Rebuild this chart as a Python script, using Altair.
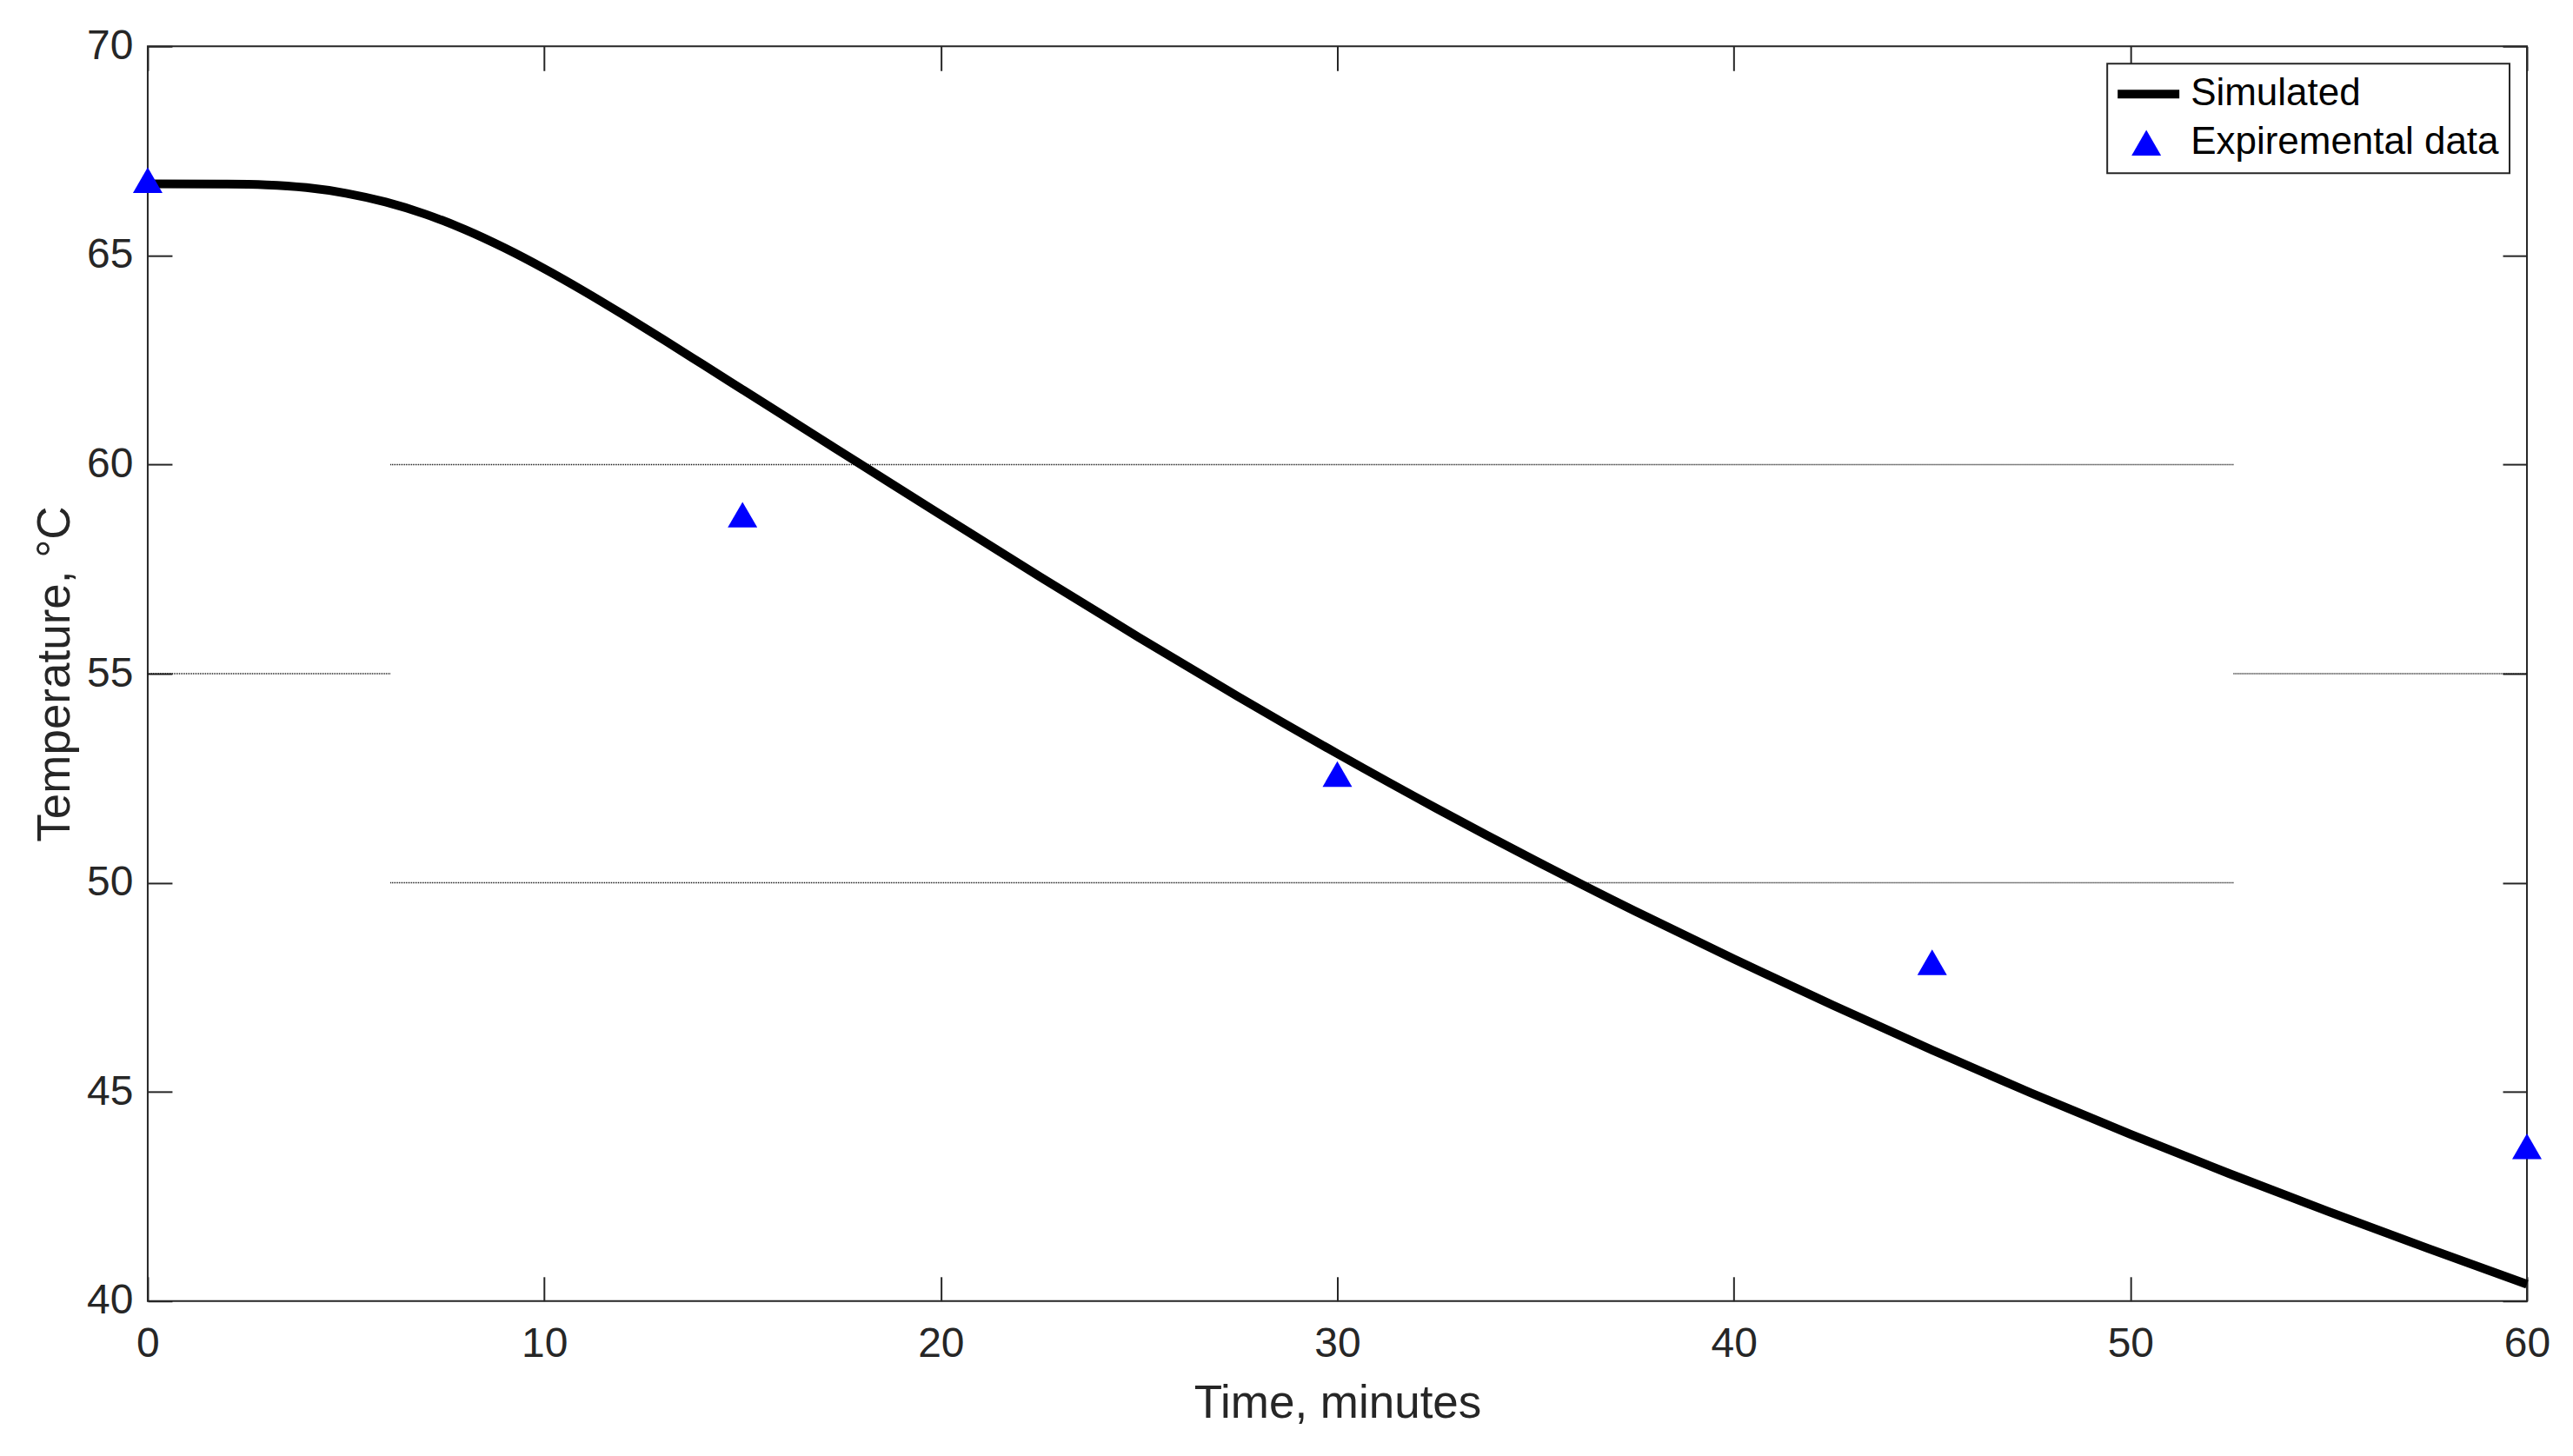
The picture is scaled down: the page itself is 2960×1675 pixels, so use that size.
import altair as alt
import pandas as pd

# ---- data ----
sim_time = [0, 2, 3, 4, 5, 6, 7, 8, 9, 10, 11, 12, 13, 14, 15, 16, 17, 18, 20,
            22.5, 25, 27.5, 30, 32.5, 35, 37.5, 40, 42.5, 45, 47.5, 50, 52.5, 55,
            57.5, 60]
sim_temp = [66.71, 66.705, 66.687, 66.622, 66.487, 66.277, 65.987, 65.617, 65.177,
            64.682, 64.145, 63.577, 62.99, 62.392, 61.792, 61.192, 60.592, 59.992,
            58.80, 57.316, 55.863, 54.45, 53.088, 51.779, 50.526, 49.326, 48.176,
            47.07, 46.001, 44.973, 43.989, 43.045, 42.139, 41.261, 40.402]
exp_time = [0, 15, 30, 45, 60]
exp_temp = [66.8, 58.8, 52.6, 48.1, 43.7]

grid_temp = [60, 55, 55, 50]
grid_from = [6.12, 0, 52.6, 6.12]
grid_to = [52.6, 6.12, 60, 52.6]

x_ticks = [0, 10, 20, 30, 40, 50, 60]
y_ticks = [40, 45, 50, 55, 60, 65, 70]
series_names = ["Simulated", "Expiremental data"]
series_colors = ["black", "blue"]

# ---- styles ----
W, H = 2738, 1444
FONT = "Liberation Sans"
INK = "#262626"
LINE_PATH = "M-1,-0.1316L1,-0.1316L1,0.1316L-1,0.1316Z"
TRI_PATH = "M0,-0.3868L-0.4474,0.3868L0.4474,0.3868Z"

sim_df = pd.DataFrame({"t": sim_time, "T": sim_temp})
exp_df = pd.DataFrame({"t": exp_time, "T": exp_temp,
                       "series": [series_names[1]] * len(exp_time)})
grid_df = pd.DataFrame({"x1": grid_from, "x2": grid_to, "y": grid_temp})

xs = alt.Scale(domain=[0, 60], nice=False, zero=False)
ys = alt.Scale(domain=[40, 70], nice=False, zero=False)


def tick_axis(values, orient, offset):
    return alt.Axis(values=values, orient=orient, offset=offset, labels=False,
                    domain=False, grid=False, ticks=True, tickSize=28, tickWidth=2,
                    tickColor=INK, title=None)


x_main = alt.Axis(values=x_ticks, orient="bottom", title="Time, minutes",
                  labels=True, ticks=False, tickSize=0, domain=False, grid=False,
                  labelFont=FONT, labelFontSize=48, labelColor=INK, labelFlush=False,
                  labelBaseline="alphabetic", labelPadding=64,
                  titleFont=FONT, titleFontSize=53, titleColor=INK,
                  titleFontWeight="normal", titleX=W / 2, titleY=134,
                  titleBaseline="alphabetic", titleAlign="center")
y_main = alt.Axis(values=y_ticks, orient="left", title="Temperature, °C",
                  labels=True, ticks=False, tickSize=0, domain=False, grid=False,
                  labelFont=FONT, labelFontSize=48, labelColor=INK, labelPadding=17,
                  labelFlush=False,
                  titleFont=FONT, titleFontSize=53, titleColor=INK,
                  titleFontWeight="normal", titleAngle=270, titleX=-90, titleY=H / 2,
                  titleBaseline="alphabetic", titleAlign="center")

grid = alt.Chart(grid_df).mark_rule(color="black", strokeWidth=1.5, strokeDash=[1, 1]).encode(
    x=alt.X("x1:Q", scale=xs, axis=x_main),
    x2="x2:Q",
    y=alt.Y("y:Q", scale=ys, axis=y_main),
)

line = alt.Chart(sim_df).mark_line(color="black", strokeWidth=10, interpolate="monotone").encode(
    x=alt.X("t:Q", scale=xs, axis=tick_axis(x_ticks, "top", -H)),
    y=alt.Y("T:Q", scale=ys, axis=tick_axis(y_ticks, "right", -W)),
)

legend = alt.Legend(title=None, orient="top-right", offset=20, padding=12,
                    fillColor="white", strokeColor=INK, cornerRadius=0,
                    labelFont=FONT, labelFontSize=44, labelColor="black", labelLimit=1000,
                    symbolSize=5776, symbolStrokeWidth=0, symbolOffset=-5, labelOffset=13,
                    clipHeight=46, rowPadding=10, labelBaseline="middle")

points = alt.Chart(exp_df).mark_point(filled=True, size=5776, opacity=1, strokeWidth=0).encode(
    x=alt.X("t:Q", scale=xs, axis=tick_axis(x_ticks, "bottom", -H)),
    y=alt.Y("T:Q", scale=ys, axis=tick_axis(y_ticks, "left", -W)),
    fill=alt.Fill("series:N", scale=alt.Scale(domain=series_names, range=series_colors),
                  legend=legend),
    shape=alt.Shape("series:N", scale=alt.Scale(domain=series_names, range=[LINE_PATH, TRI_PATH]),
                    legend=legend),
)

chart = (
    alt.layer(grid, line, points)
    .resolve_axis(x="independent", y="independent")
    .properties(width=W, height=H, autosize=alt.AutoSizeParams(type="none"),
                padding={"left": 162, "top": 45, "right": 45, "bottom": 150},
                background="white")
    .configure_view(stroke=INK, strokeWidth=2)
    .configure_legend(strokeWidth=2)
)

chart.save("out.html", embed_options={"renderer": "svg", "actions": False})
